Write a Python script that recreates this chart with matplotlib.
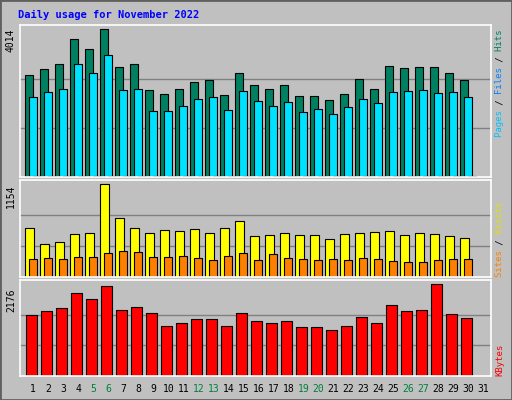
import numpy as np
import matplotlib.pyplot as plt
from matplotlib.patches import Rectangle

days = np.arange(1, 32)
weekend = [5, 6, 12, 13, 19, 20, 26, 27]

# values (day 31 has no data)
hits = [2782, 2947, 3084, 3740, 3467, 4014, 3001, 3084, 2372, 2262, 2399, 2591,
        2646, 2235, 2837, 2509, 2399, 2509, 2208, 2208, 2098, 2262, 2673, 2399,
        3029, 2974, 3001, 3001, 2837, 2646]
files = [2180, 2317, 2399, 3084, 2837, 3302, 2372, 2399, 1797, 1797, 1934, 2126,
         2180, 1825, 2345, 2071, 1934, 2043, 1770, 1852, 1715, 1907, 2126, 2016,
         2317, 2345, 2372, 2290, 2317, 2180]
pages = [25] * 30
visits = [615, 414, 439, 539, 552, 1154, 740, 615, 552, 590, 577, 602,
          552, 615, 702, 514, 527, 552, 527, 527, 477, 539, 552, 564,
          577, 527, 552, 539, 514, 489]
sites = [226, 238, 226, 255, 255, 301, 326, 314, 255, 255, 265, 238,
         213, 265, 301, 213, 289, 238, 226, 213, 226, 213, 238, 226,
         201, 188, 188, 213, 226, 226]
kbytes = [1459, 1554, 1602, 1961, 1817, 2128, 1578, 1626, 1506, 1196, 1267, 1363,
          1363, 1196, 1506, 1315, 1267, 1315, 1172, 1172, 1100, 1196, 1411, 1267,
          1674, 1554, 1578, 2176, 1483, 1387]

W, H = 512, 400
fig = plt.figure(figsize=(W / 100, H / 100), dpi=100, facecolor='#c0c0c0')
fig.patches.append(Rectangle((0, 0), 1, 1, transform=fig.transFigure, fill=False,
                             edgecolor='#606060', linewidth=2))

xl = (1 - (25.3 - 20) / 15, 1 + (491 - 25.3) / 15)


def panel(top, bottom, vmax, vtop_px):
    ax = fig.add_axes([20 / W, 1 - bottom / H, 471 / W, (bottom - top) / H])
    ax.set_facecolor('#c0c0c0')
    ax.set_xlim(*xl)
    ax.set_ylim(0, vmax * (bottom - top) / (bottom - vtop_px))
    ax.set_xticks([])
    ax.set_yticks([])
    for s in ax.spines.values():
        s.set_color('white')
        s.set_linewidth(1.2)
    for f in (1 / 3, 2 / 3):
        ax.axhline(vmax * f, color='#808080', lw=1, zorder=0)
    return ax


mono = 'DejaVu Sans Mono'
ek = dict(edgecolor='black', linewidth=0.8)

ax1 = panel(24.5, 177, 4014, 29.3)
d = days[:30]
ax1.bar(d, hits, width=0.5, align='edge', color='#008060', **ek)
ax1.bar(d + 0.27, files, width=0.5, align='edge', color='#00e0ff', **ek)
ax1.bar(d + 0.54, pages, width=0.5, align='edge', color='#00c0ff', **ek)

ax2 = panel(180, 277, 1154, 184.3)
ax2.bar(d, visits, width=0.55, align='edge', color='#ffff00', **ek)
ax2.bar(d + 0.27, sites, width=0.5, align='edge', color='#ff8000', **ek)

ax3 = panel(280, 376, 2176, 284.3)
ax3.bar(d + 0.07, kbytes, width=0.69, align='edge', color='#ff0000', **ek)

for ax, lab, ytop in ((ax1, '4014', 29), (ax2, '1154', 184), (ax3, '2176', 288)):
    fig.text(11 / W, 1 - ytop / H, lab, rotation=90, ha='center', va='top',
             fontsize=7, family=mono)

# day labels
for day in days:
    xpix = 20 + (day + 0.53 - xl[0]) / (xl[1] - xl[0]) * 471
    fig.text(xpix / W, 1 - 389 / H, str(day), ha='center', va='center', fontsize=7,
             family=mono, color='#008040' if day in weekend else 'black')

fig.text(18 / W, 1 - 15 / H, 'Daily usage for November 2022', ha='left', va='center',
         fontsize=7.5, family=mono, weight='bold', color='#0000ff')


def side_label(parts, ybottom):
    full = ''.join(p for p, _ in parts)
    off = 0
    for p, c in parts:
        s = ' ' * off + p + ' ' * (len(full) - off - len(p))
        fig.text(500 / W, 1 - ybottom / H, s, rotation=90, ha='center', va='bottom',
                 fontsize=6.5, family=mono, color=c)
        off += len(p)


side_label([('Pages', '#00c0ff'), (' / ', 'black'), ('Files', '#0080ff'),
            (' / ', 'black'), ('Hits', '#008060')], 137)
side_label([('Sites', '#ff8000'), (' / ', 'black'), ('Visits', '#e0e000')], 277)
side_label([('KBytes', '#ff0000')], 376)

fig.savefig('out.png', dpi=100, facecolor=fig.get_facecolor())
